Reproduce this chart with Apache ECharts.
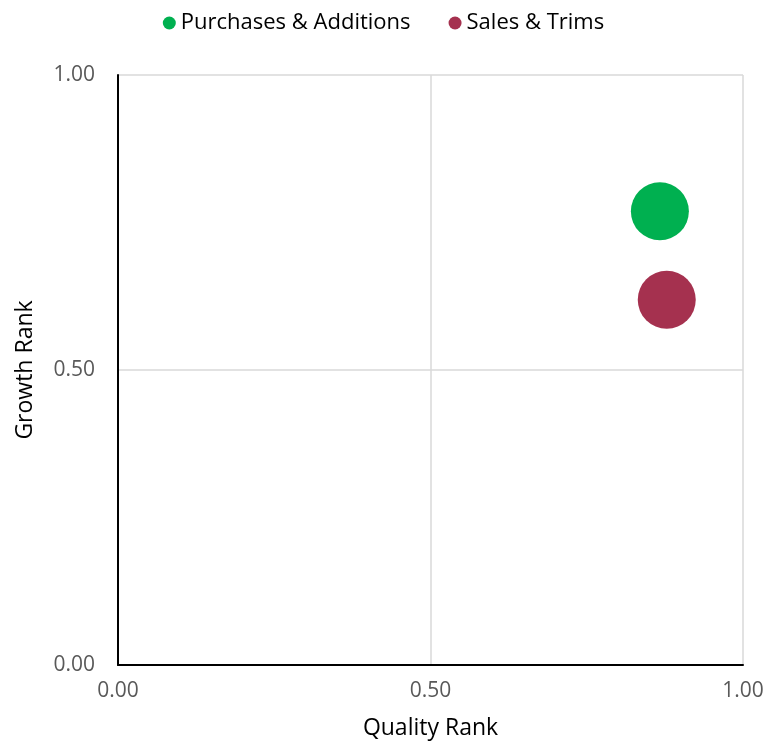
<!DOCTYPE html>
<html>
<head>
<meta charset="utf-8">
<script src="https://cdn.jsdelivr.net/npm/echarts@6/dist/echarts.min.js"></script>
<style>
  html, body { margin: 0; padding: 0; background: #fff; }
  #chart { width: 767px; height: 742px; }
</style>
</head>
<body>
<div id="chart"></div>
<script>
// Portfolio activity positioned by quality and growth rank
const seriesNames = ['Purchases & Additions', 'Sales & Trims'];
const qualityRank = [0.867, 0.878];
const growthRank = [0.769, 0.619];
const seriesColors = ['#00B050', '#A5314F'];
const tickValues = [0, 0.5, 1];

const chart = echarts.init(document.getElementById('chart'));
const font = '"Open Sans"';

const axisCommon = {
  type: 'value',
  min: 0,
  max: 1,
  interval: 0.5,
  nameLocation: 'middle',
  nameTextStyle: { color: '#000', fontSize: 23, fontFamily: font },
  axisLabel: {
    color: '#595959', fontSize: 21, fontFamily: font,
    formatter: v => v.toFixed(2)
  },
  axisTick: { show: false },
  splitLine: { show: true, lineStyle: { color: '#D9D9D9', width: 1.5 } }
};

chart.setOption({
  animation: false,
  legend: {
    top: 7,
    left: 'center',
    itemWidth: 13,
    itemHeight: 13,
    itemGap: 38,
    icon: 'circle',
    textStyle: { color: '#000', fontSize: 22, fontFamily: font },
    data: seriesNames
  },
  grid: { left: 118, right: 24, top: 75, bottom: 77, containLabel: false, outerBoundsMode: 'none' },
  xAxis: Object.assign({}, axisCommon, {
    name: 'Quality Rank',
    nameGap: 52,
    axisLine: { show: true, onZero: false, lineStyle: { color: '#000', width: 2 } },
    axisLabel: Object.assign({}, axisCommon.axisLabel, { margin: 16 })
  }),
  yAxis: Object.assign({}, axisCommon, {
    name: 'Growth Rank',
    nameGap: 81,
    axisLine: { show: true, onZero: false, lineStyle: { color: '#000', width: 2 } },
    axisLabel: Object.assign({}, axisCommon.axisLabel, { margin: 23 })
  }),
  series: seriesNames.map((name, i) => ({
    name,
    type: 'scatter',
    symbolSize: 58,
    itemStyle: { color: seriesColors[i], opacity: 1 },
    data: [[qualityRank[i], growthRank[i]]]
  }))
});
</script>
</body>
</html>
